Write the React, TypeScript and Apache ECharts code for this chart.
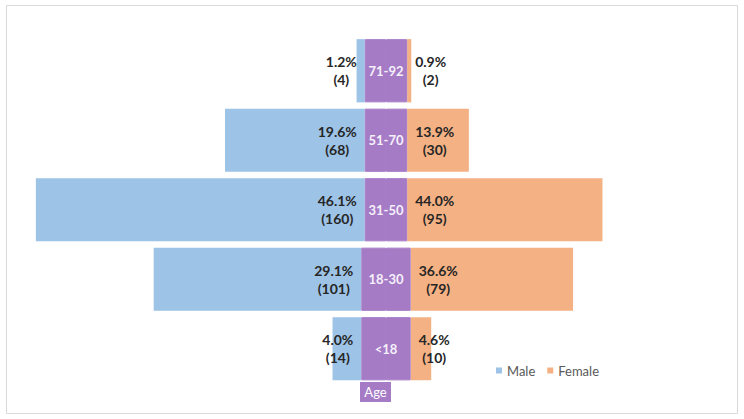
import React, { useEffect, useRef } from "react";
import * as echarts from "echarts";

const ageGroups = ["71-92", "51-70", "31-50", "18-30", "<18"];
const maleCounts = [4, 68, 160, 101, 14];
const malePct = ["1.2%", "19.6%", "46.1%", "29.1%", "4.0%"];
const femaleCounts = [2, 30, 95, 79, 10];
const femalePct = ["0.9%", "13.9%", "44.0%", "36.6%", "4.6%"];
// half-width of the purple age band, in the same units as the counts
const bandHalf = [10.3, 10.3, 10.3, 12.0, 12.0];

const BLUE = "#9DC3E6";
const ORANGE = "#F4B183";
const PURPLE = "#A67BC6";
const FONT = "Lato, 'Open Sans', sans-serif";

export default function App() {
  const ref = useRef<HTMLDivElement>(null);
  useEffect(() => {
    document.body.style.margin = "0";
    const chart = echarts.init(ref.current!, null, { renderer: "svg" });
    const richLabel = {
      a: {
        align: "center",
        fontWeight: "bold",
        fontSize: 14,
        lineHeight: 18,
        color: "#262626",
        fontFamily: FONT,
      },
    };
    chart.setOption({
      animation: false,
      backgroundColor: "#ffffff",
      grid: { left: 26.2, top: 36, width: 699, height: 347.5 },
      xAxis: { type: "value", min: -175, max: 165, show: false },
      yAxis: { type: "category", data: ageGroups, inverse: true, show: false },
      legend: {
        data: ["Male", "Female"],
        left: 491,
        top: 359,
        icon: "rect",
        itemWidth: 6,
        itemHeight: 6,
        itemGap: 12,
        textStyle: { color: "#595959", fontSize: 13, fontFamily: FONT },
      },
      graphic: [
        {
          type: "rect",
          shape: { x: 6.5, y: 5.5, width: 731, height: 408 },
          style: { fill: "none", stroke: "#D9D9D9", lineWidth: 1 },
          silent: true,
        },
        {
          type: "group",
          left: 360,
          top: 382,
          children: [
            { type: "rect", shape: { x: 0, y: 0, width: 31, height: 20 }, style: { fill: PURPLE } },
            {
              type: "text",
              x: 15.5,
              y: 10,
              style: {
                text: "Age",
                fill: "#ffffff",
                fontSize: 13,
                fontFamily: FONT,
                align: "center",
                verticalAlign: "middle",
              },
            },
          ],
        },
      ],
      series: [
        {
          name: "bandR",
          type: "bar",
          stack: "p",
          barCategoryGap: "9%",
          data: bandHalf,
          itemStyle: { color: PURPLE, borderColor: PURPLE, borderWidth: 1 },
          z: 3,
          label: {
            show: true,
            position: [0, "50%"],
            align: "center",
            verticalAlign: "middle",
            formatter: (p: any) => ageGroups[p.dataIndex],
            color: "#F5F0FA",
            fontWeight: "bold",
            fontSize: 13,
            fontFamily: FONT,
          },
        },
        {
          name: "bandL",
          type: "bar",
          stack: "p",
          data: bandHalf.map((v) => -v),
          itemStyle: { color: PURPLE, borderColor: PURPLE, borderWidth: 1 },
          z: 3,
        },
        {
          name: "Female",
          type: "bar",
          stack: "p",
          data: femaleCounts,
          itemStyle: { color: ORANGE },
          label: {
            show: true,
            position: "insideLeft",
            distance: 8,
            align: "left",
            formatter: (p: any) => `{a|${femalePct[p.dataIndex]}}\n{a|(${femaleCounts[p.dataIndex]})}`,
            rich: richLabel,
          },
        },
        {
          name: "Male",
          type: "bar",
          stack: "p",
          data: maleCounts.map((v) => -v),
          itemStyle: { color: BLUE },
          label: {
            show: true,
            position: "insideRight",
            distance: 8,
            align: "right",
            formatter: (p: any) => `{a|${malePct[p.dataIndex]}}\n{a|(${maleCounts[p.dataIndex]})}`,
            rich: richLabel,
          },
        },
      ],
    });
    return () => chart.dispose();
  }, []);
  return <div ref={ref} style={{ width: 744, height: 419 }} />;
}
